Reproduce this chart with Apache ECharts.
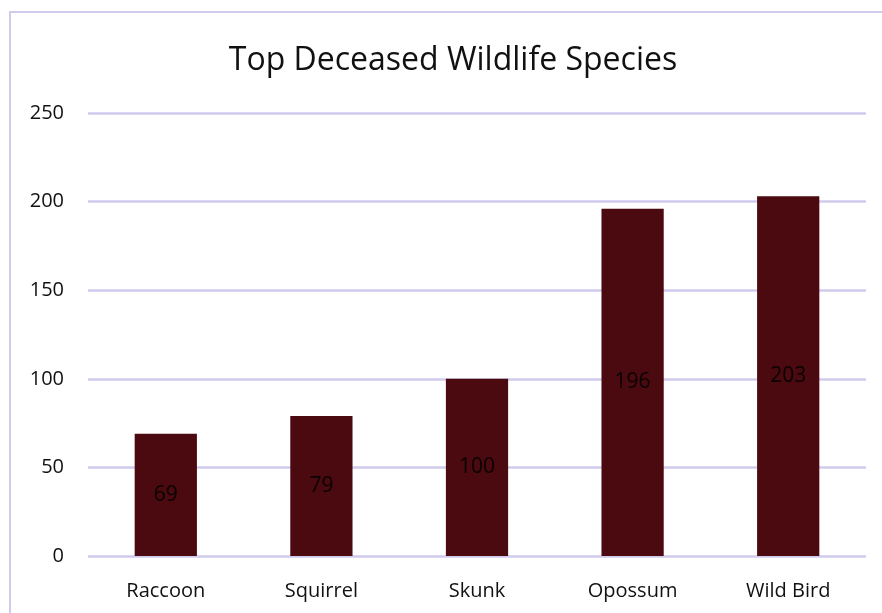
<!DOCTYPE html>
<html>
<head>
<meta charset="utf-8">
<script src="https://cdn.jsdelivr.net/npm/echarts@6/dist/echarts.min.js"></script>
<style>
  html, body { margin: 0; padding: 0; background: #fff; }
  #chart { width: 882px; height: 613px; }
</style>
</head>
<body>
<div id="chart"></div>
<script>
var species = ['Raccoon', 'Squirrel', 'Skunk', 'Opossum', 'Wild Bird'];
var counts = [69, 79, 100, 196, 203];
var yTicks = [0, 50, 100, 150, 200, 250];

var myChart = echarts.init(document.getElementById('chart'));

var option = {
    backgroundColor: '#ffffff',
    animation: false,
    title: {
        text: 'Top Deceased Wildlife Species',
        left: 448,
        textAlign: 'center',
        top: 40,
        textStyle: {
            fontFamily: 'Open Sans',
            fontWeight: 'normal',
            fontSize: 32,
            color: '#111111'
        }
    },
    graphic: [{
        type: 'rect',
        shape: { x: 10, y: 12, width: 1000, height: 800 },
        style: { fill: 'none', stroke: '#d0cbec', lineWidth: 2 }
    }],
    grid: {
        left: 88,
        right: 16,
        top: 113,
        bottom: 57
    },
    xAxis: {
        type: 'category',
        data: species,
        axisLine: { show: false },
        axisTick: { show: false },
        axisLabel: {
            margin: 25,
            fontFamily: 'Open Sans',
            fontSize: 20,
            color: '#111111'
        }
    },
    yAxis: {
        type: 'value',
        min: yTicks[0],
        max: yTicks[yTicks.length - 1],
        interval: 50,
        axisLine: { show: false },
        axisTick: { show: false },
        axisLabel: {
            margin: 24,
            fontFamily: 'Open Sans',
            fontSize: 20,
            color: '#111111'
        },
        splitLine: {
            lineStyle: { color: '#d0cbec', width: 2.5 }
        }
    },
    series: [{
        type: 'bar',
        data: counts,
        barWidth: '40%',
        itemStyle: { color: '#4a0a10' },
        label: {
            show: true,
            position: 'inside',
            fontFamily: 'Open Sans',
            fontSize: 21,
            color: '#0a0202'
        }
    }]
};

myChart.setOption(option);
window.addEventListener('resize', function () {
    myChart.resize();
});
</script>
</body>
</html>
